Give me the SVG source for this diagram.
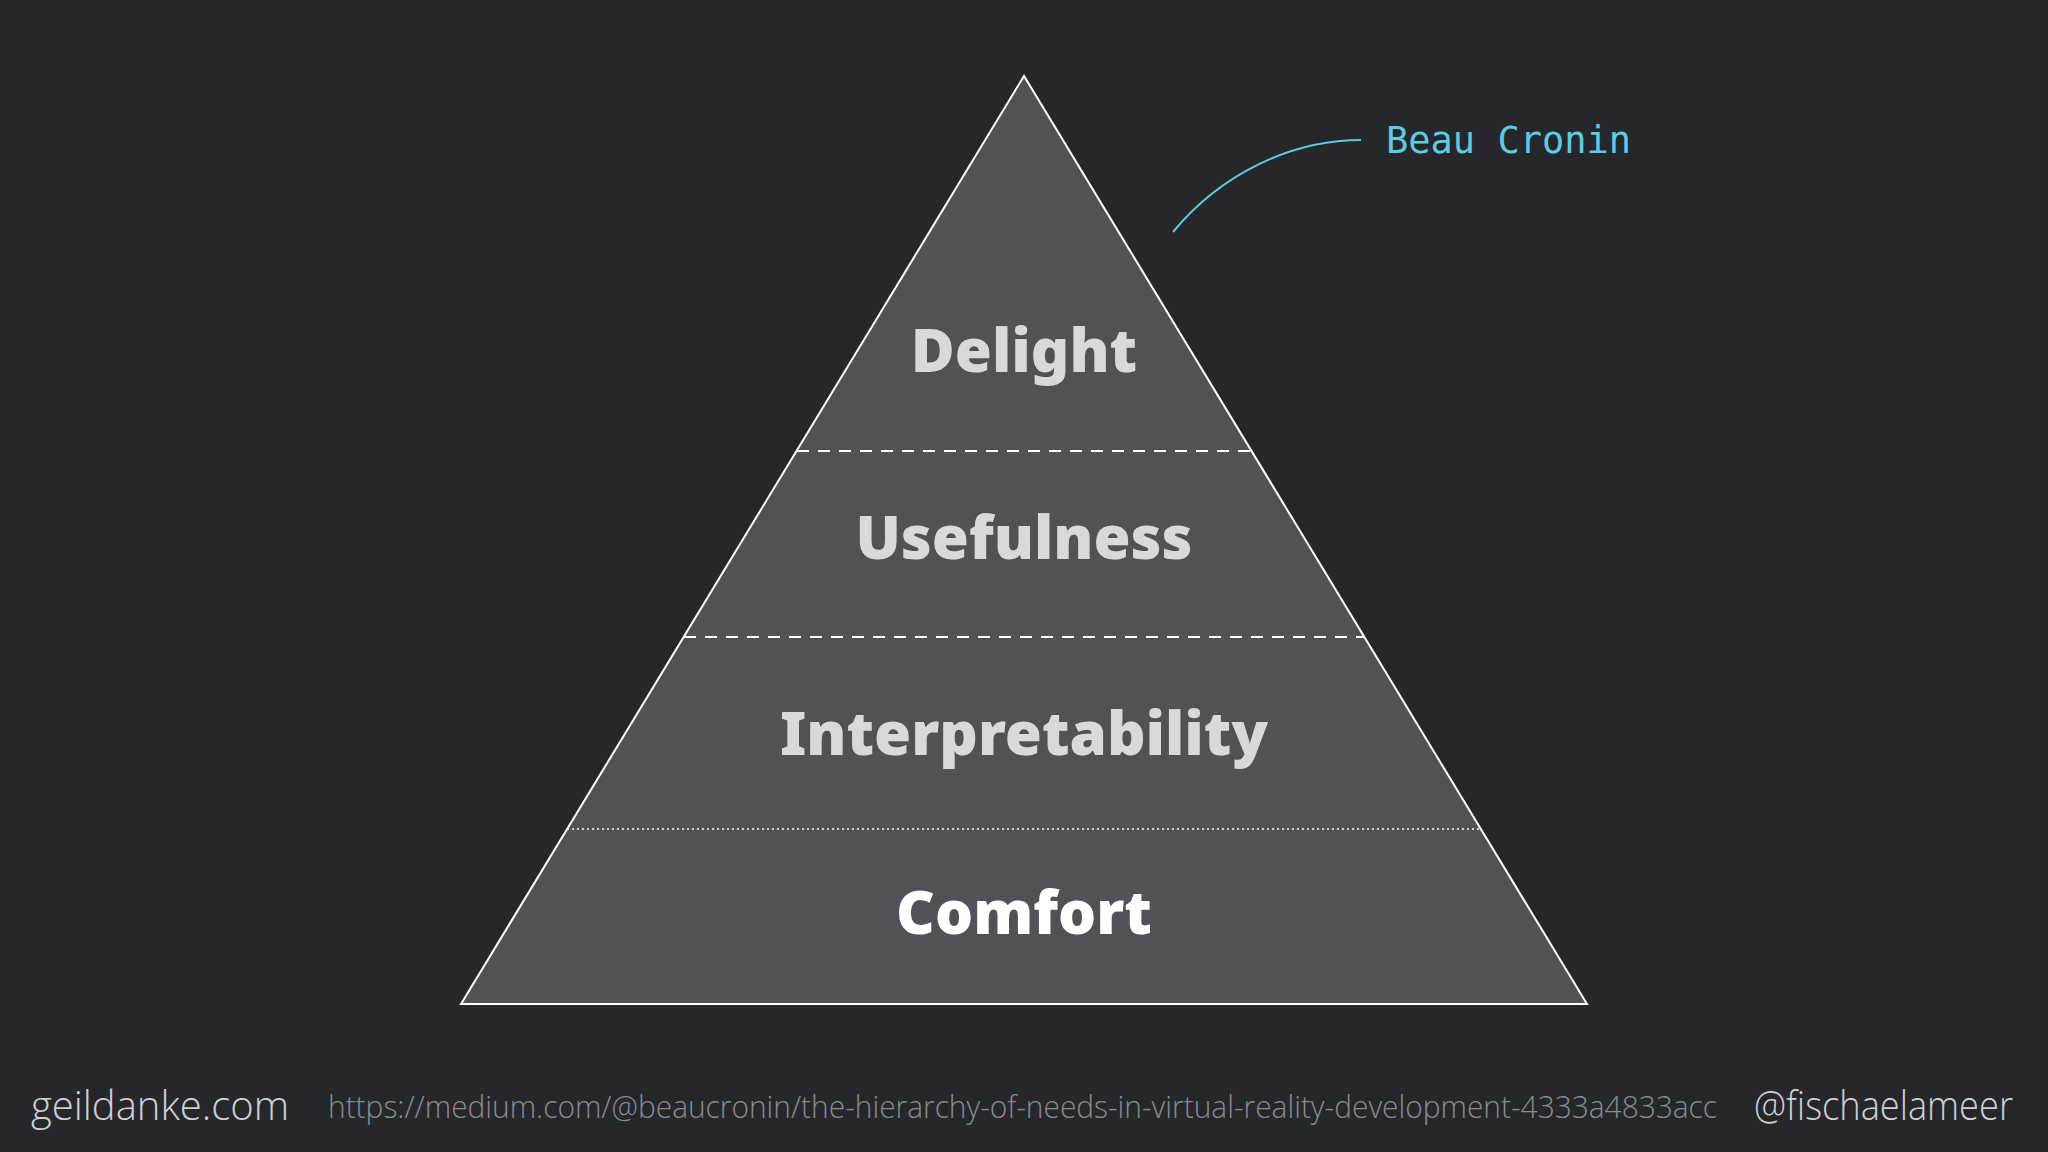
<svg xmlns="http://www.w3.org/2000/svg" width="2048" height="1152" viewBox="0 0 2048 1152">
<style>
.lvl{font-family:"Noto Sans","Open Sans",sans-serif;font-weight:900;font-size:60px;fill:#d9d9dd;text-anchor:middle}
.foot{font-family:"Open Sans","Noto Sans",sans-serif;font-weight:300}
</style>
<rect width="2048" height="1152" fill="#26272b"/>
<g id="pyramid">
<polygon points="1024,76 461,1004 1587,1004" fill="#515257" stroke="#ffffff" stroke-width="2"/>
</g>
<g id="connectors" stroke="#ffffff" fill="none">
<line x1="797" y1="451" x2="1251" y2="451" stroke-width="2" stroke-dasharray="12,9"/>
<line x1="684" y1="637" x2="1364" y2="637" stroke-width="2" stroke-dasharray="12,9"/>
<line x1="567" y1="829" x2="1481" y2="829" stroke-width="1.5" stroke-dasharray="2,3"/>
<path d="M1173,232 C1220,175 1290,140 1361,140" stroke="#5ccde0" stroke-width="2"/>
</g>
<g id="delight"><text class="lvl" x="1024" y="372">Delight</text></g>
<g id="usefulness"><text class="lvl" x="1024" y="559">Usefulness</text></g>
<g id="interpretability"><text class="lvl" x="1024" y="755">Interpretability</text></g>
<g id="comfort"><text class="lvl" x="1024" y="934" style="fill:#ffffff">Comfort</text></g>
<g id="author"><text x="1386" y="153" font-family="DejaVu Sans Mono,monospace" font-size="37" fill="#5ccde0">Beau Cronin</text></g>
<g id="footer">
<text class="foot" x="31" y="1120" font-size="40" fill="#d0d0d4">geildanke.com</text>
<text class="foot" x="328" y="1118" font-size="31" fill="#8a8b90" textLength="1389" lengthAdjust="spacingAndGlyphs">https://medium.com/@beaucronin/the-hierarchy-of-needs-in-virtual-reality-development-4333a4833acc</text>
<text class="foot" x="1754" y="1120" font-size="40" fill="#d0d0d4" textLength="259" lengthAdjust="spacingAndGlyphs">@fischaelameer</text>
</g>
</svg>
